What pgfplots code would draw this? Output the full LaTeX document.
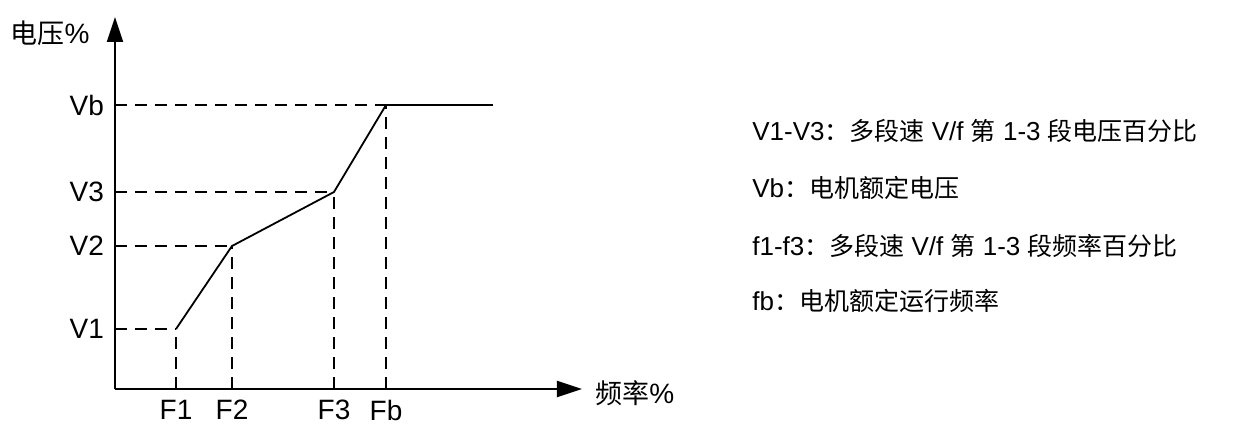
\documentclass[border=0pt]{standalone}
\usepackage{pgfplots}
\pgfplotsset{compat=1.18}
\usepackage{fontspec}
\setmainfont{Liberation Sans}
\newfontfamily\cjk{Noto Sans CJK SC}
\usetikzlibrary{arrows.meta}
\newcommand{\fs}{\fontsize{14pt}{16pt}\selectfont}
\newcommand{\fr}{\fontsize{13pt}{15pt}\selectfont}
\newcommand{\cj}[1]{{\cjk\fontsize{12.5pt}{15pt}\selectfont #1}}
\newcommand{\cl}[1]{{\cjk\fontsize{13.5pt}{15pt}\selectfont #1}}
\begin{document}
\begin{tikzpicture}
\begin{axis}[
  x=0.5pt, y=0.5pt,
  xmin=0, xmax=467, ymin=0, ymax=372,
  enlargelimits=false,
  axis lines=left,
  axis line style={line width=1pt, -{Triangle[length=12.5pt,width=8pt]}},
  clip=false,
  xtick={61,117,219,271},
  xticklabels={F1,F2,F3,Fb},
  ytick={60,143,197,284},
  yticklabels={V1,V2,V3,Vb},
  major tick length=0pt,
  tick style={draw=none},
  xticklabel style={font=\fs, yshift=-2pt},
  yticklabel style={font=\fs, xshift=-2pt},
  /pgf/number format/assume math mode=true,
]
% bounding box of the whole picture
\path (axis cs:-115,-34) rectangle (axis cs:1129,389);
% dashed guide lines
\addplot[black, line width=0.8pt, dash pattern=on 6pt off 4pt] coordinates {(0,60) (61,60)};
\addplot[black, line width=0.8pt, dash pattern=on 6pt off 4pt] coordinates {(61,0) (61,60)};
\addplot[black, line width=0.8pt, dash pattern=on 6pt off 4pt] coordinates {(0,143) (117,143)};
\addplot[black, line width=0.8pt, dash pattern=on 6pt off 4pt] coordinates {(117,0) (117,143)};
\addplot[black, line width=0.8pt, dash pattern=on 6pt off 4pt] coordinates {(0,197) (219,197)};
\addplot[black, line width=0.8pt, dash pattern=on 6pt off 4pt] coordinates {(219,0) (219,197)};
\addplot[black, line width=0.8pt, dash pattern=on 6pt off 4pt] coordinates {(0,284) (271,284)};
\addplot[black, line width=0.8pt, dash pattern=on 6pt off 4pt] coordinates {(271,0) (271,284)};
% V/f curve
\addplot[black, line width=0.9pt] coordinates {(61,60) (117,143) (219,197) (271,284) (378,284)};
% axis labels
\node[anchor=east, font=\fs, inner sep=0pt] at (axis cs:-25,356) {\cl{电压}\%};
\node[anchor=west, font=\fs, inner sep=0pt] at (axis cs:480,-4) {\cl{频率}\%};
% explanation text
\node[anchor=west, font=\fr, inner sep=0pt] at (axis cs:637,258) {V1-V3\cj{：多段速} V/f \cj{第} 1-3 \cj{段电压百分比}};
\node[anchor=west, font=\fr, inner sep=0pt] at (axis cs:637,201) {Vb\cj{：电机额定电压}};
\node[anchor=west, font=\fr, inner sep=0pt] at (axis cs:637,143) {f1-f3\cj{：多段速} V/f \cj{第} 1-3 \cj{段频率百分比}};
\node[anchor=west, font=\fr, inner sep=0pt] at (axis cs:637,88) {fb\cj{：电机额定运行频率}};
\end{axis}
\end{tikzpicture}
\end{document}
